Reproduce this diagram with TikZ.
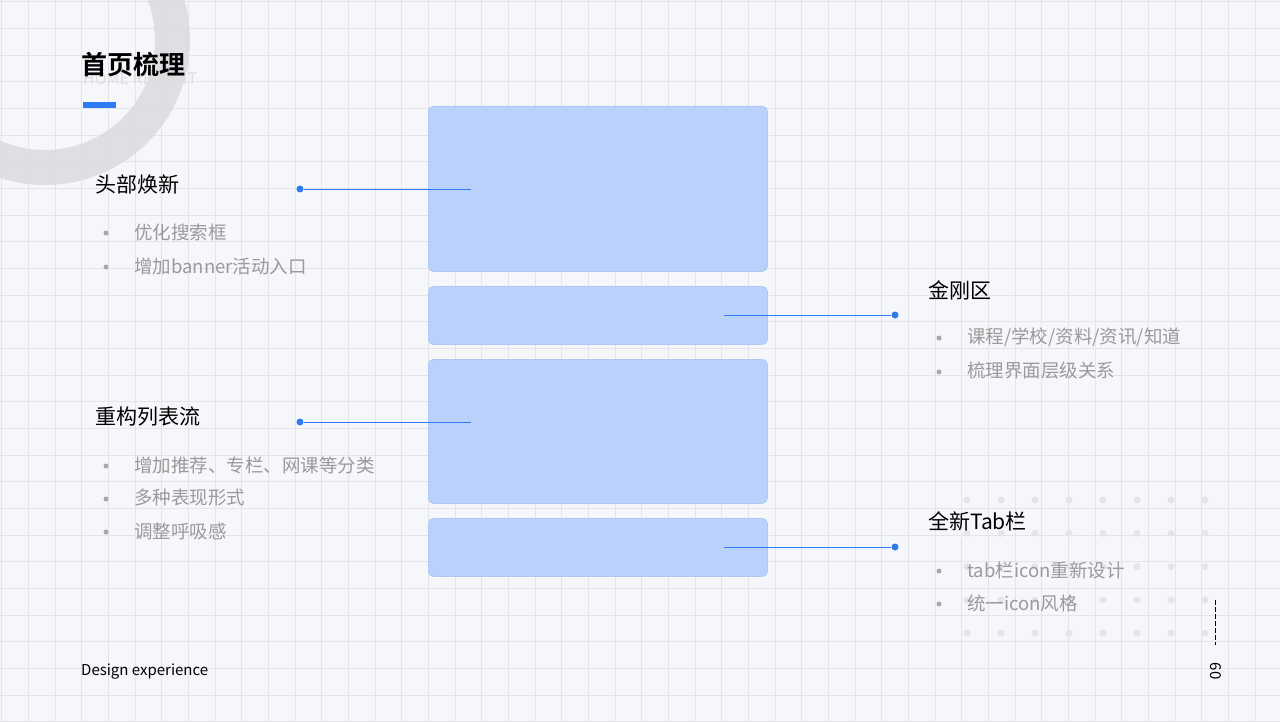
\documentclass[tikz,border=0pt]{standalone}
\usepackage{fontspec}
\setmainfont{Noto Sans CJK SC}
\newfontfamily\cjkb{Noto Sans CJK SC Bold}
\begin{document}
\begin{tikzpicture}[x=1pt,y=-1pt,
  box/.style={fill=boxc,draw=boxe,line width=0.8pt,rounded corners=5pt},
  con/.style={draw=linec,line width=0.8pt},
  dot/.style={circle,fill=linec,inner sep=0,minimum size=7pt},
  head/.style={anchor=west,font=\fontsize{21}{24}\selectfont,text=black,inner sep=0},
  item/.style={anchor=west,font=\fontsize{18.5}{22}\selectfont,text=itc,inner sep=0},
  bul/.style={circle,fill=bulc,inner sep=0,minimum size=5pt}]
\definecolor{bg}{HTML}{F6F7FB}
\definecolor{gridc}{HTML}{E3E5EA}
\definecolor{boxc}{HTML}{B9D1FB}
\definecolor{boxe}{HTML}{AFC8F6}
\definecolor{linec}{HTML}{2F7BF5}
\definecolor{itc}{HTML}{9A9A9A}
\definecolor{bulc}{HTML}{A8A8A8}
\definecolor{dotc}{HTML}{E4E5EA}
\definecolor{ringc}{HTML}{DCDDE1}
\useasboundingbox (0,0) rectangle (1280,722);
\fill[bg] (0,0) rectangle (1280,722);
\foreach \i in {0,...,48} {\draw[gridc,line width=0.8pt] (1.67+26.67*\i,0) -- (1.67+26.67*\i,722);}
\foreach \i in {0,...,27} {\draw[gridc,line width=0.8pt] (0,1.67+26.67*\i) -- (1280,1.67+26.67*\i);}
\fill[ringc,even odd rule,opacity=0.9] (45,40) circle (145) (45,40) circle (110);
\foreach \x in {0,...,7} \foreach \y in {0,...,4} {\fill[dotc] (967+34*\x,500+33.3*\y) circle (3.5);}
\node[anchor=west,inner sep=0,text=gray!25,font=\fontsize{16}{18}\selectfont] (en) at (83,79) {HOME REPAINT};
\node[anchor=west,inner sep=0,font=\cjkb\fontsize{26}{30}\selectfont] (title) at (81,65) {首页梳理};
\fill[linec] (83,102) rectangle (116,108);
\node[box,minimum width=339pt,minimum height=165pt,anchor=north west] (b1) at (428,106) {};
\node[box,minimum width=339pt,minimum height=58pt,anchor=north west] (b2) at (428,286) {};
\node[box,minimum width=339pt,minimum height=144pt,anchor=north west] (b3) at (428,359) {};
\node[box,minimum width=339pt,minimum height=58pt,anchor=north west] (b4) at (428,518) {};
\node[dot] (d1) at (300,189) {}; \coordinate (e1) at (471,189);
\node[dot] (d2) at (300,422) {}; \coordinate (e2) at (471,422);
\node[dot] (d3) at (895,315) {}; \coordinate (e3) at (724,315);
\node[dot] (d4) at (895,547) {}; \coordinate (e4) at (724,547);
\draw[con] (d1) -- (e1); \draw[con] (d2) -- (e2); \draw[con] (d3) -- (e3); \draw[con] (d4) -- (e4);
\node[head] (h1) at (95,184) {头部焕新};
\node[head] (h2) at (95,417) {重构列表流};
\node[head] (h3) at (928,290) {金刚区};
\node[head] (h4) at (928,521) {全新Tab栏};
\foreach \n/\x/\y/\t in {a/134/232/{优化搜索框}, b/134/266/{增加banner活动入口}, c/134/465/{增加推荐、专栏、网课等分类}, d/134/498/{多种表现形式}, e/134/531/{调整呼吸感}, f/967/337/{课程/学校/资料/资讯/知道}, g/967/371/{梳理界面层级关系}, h/967/570/{tab栏icon重新设计}, i/967/603/{统一icon风格}} {
  \node[item] (t\n) at (\x,\y) {\t};
  \node[bul] (u\n) at (\x-28,\y+1) {};
}
\node[anchor=west,inner sep=0,font=\fontsize{15}{18}\selectfont] (de) at (81,672) {Design experience};
\node[rotate=-90,inner sep=0,font=\fontsize{15}{18}\selectfont] (pg) at (1216,671) {60};
\draw[black,line width=1pt,dash pattern=on 5pt off 2pt] (1215,600) -- (1215,645);
\end{tikzpicture}
\end{document}
